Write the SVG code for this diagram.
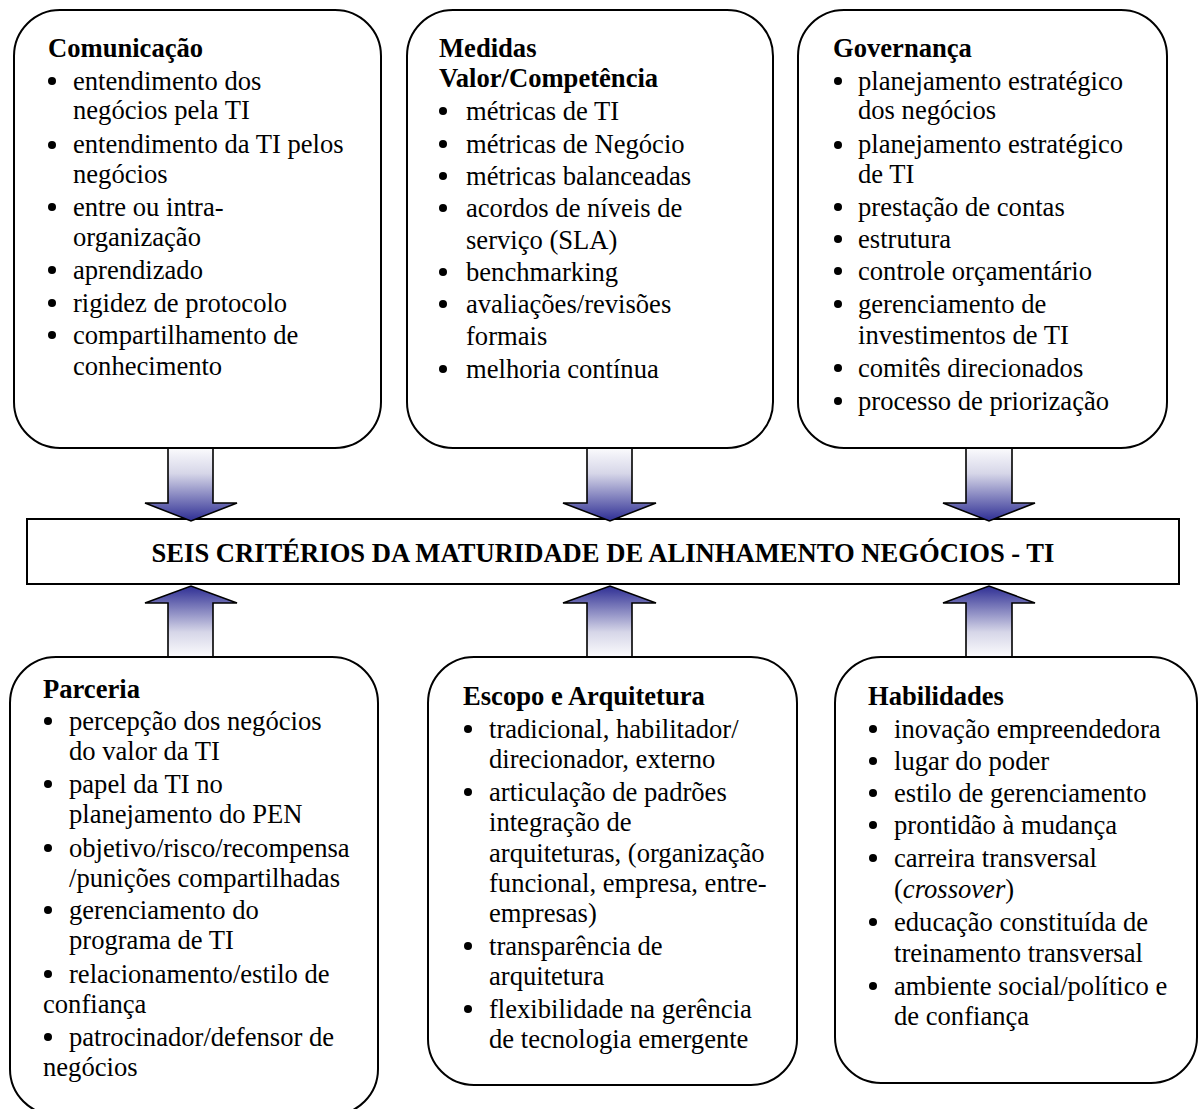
<svg xmlns="http://www.w3.org/2000/svg" width="1200" height="1109" viewBox="0 0 1200 1109">
  <style>
    text { font-family: "Liberation Serif", "Times New Roman", serif; font-size: 26.6px; fill: #000; }
    .h { font-weight: bold; }
    .box { fill: #fff; stroke: #000; stroke-width: 2; }
    .dot { fill: #000; }
    .down { fill: url(#gDown); stroke: #000; stroke-width: 1.6; stroke-linejoin: miter; }
    .up { fill: url(#gUp); stroke: #000; stroke-width: 1.6; stroke-linejoin: miter; }
  </style>
  <defs>
    <linearGradient id="gDown" x1="0" y1="0" x2="0" y2="1">
      <stop offset="0" stop-color="#fbfbfd"/>
      <stop offset="0.35" stop-color="#d6d6e8"/>
      <stop offset="1" stop-color="#2e2e94"/>
    </linearGradient>
    <linearGradient id="gUp" x1="0" y1="1" x2="0" y2="0">
      <stop offset="0" stop-color="#fbfbfd"/>
      <stop offset="0.35" stop-color="#d6d6e8"/>
      <stop offset="1" stop-color="#2e2e94"/>
    </linearGradient>
  </defs>
  <rect width="1200" height="1109" fill="#fff"/>

  <!-- central criteria bar -->
  <g id="center">
    <rect x="27" y="519" width="1152" height="65" fill="#fff" stroke="#000" stroke-width="2"/>
    <text class="h" x="603" y="562" text-anchor="middle">SEIS CRITÉRIOS DA MATURIDADE DE ALINHAMENTO NEGÓCIOS - TI</text>
  </g>

  <!-- block arrows feeding the central bar -->
  <g id="connectors">
    <polygon class="down" points="168,448 213,448 213,503 237,503 191,521 145,503 168,503"/>
    <polygon class="down" points="587,448 632,448 632,503 656,503 610,521 563,503 587,503"/>
    <polygon class="down" points="966,448 1012,448 1012,503 1035,503 989,521 943,503 966,503"/>
    <polygon class="up" points="168,657 213,657 213,603 237,603 191,586 145,603 168,603"/>
    <polygon class="up" points="587,657 632,657 632,603 656,603 610,586 563,603 587,603"/>
    <polygon class="up" points="966,657 1012,657 1012,603 1035,603 989,586 943,603 966,603"/>
  </g>

  <!-- Comunicação -->
  <g id="comunicacao">
    <rect class="box" x="14" y="10" width="367" height="438" rx="46"/>
    <text class="h" x="48" y="57">Comunicação</text>
    <circle class="dot" cx="52" cy="81" r="4"/><text x="73" y="90">entendimento dos</text>
    <text x="73" y="119">negócios pela TI</text>
    <circle class="dot" cx="52" cy="145" r="4"/><text x="73" y="153">entendimento da TI pelos</text>
    <text x="73" y="183">negócios</text>
    <circle class="dot" cx="52" cy="207" r="4"/><text x="73" y="216">entre ou intra-</text>
    <text x="73" y="246">organização</text>
    <circle class="dot" cx="52" cy="270" r="4"/><text x="73" y="279">aprendizado</text>
    <circle class="dot" cx="52" cy="303" r="4"/><text x="73" y="312">rigidez de protocolo</text>
    <circle class="dot" cx="52" cy="335" r="4"/><text x="73" y="344">compartilhamento de</text>
    <text x="73" y="375">conhecimento</text>
  </g>

  <!-- Medidas Valor/Competência -->
  <g id="medidas">
    <rect class="box" x="407" y="10" width="366" height="438" rx="46"/>
    <text class="h" x="439" y="57">Medidas</text>
    <text class="h" x="439" y="87">Valor/Competência</text>
    <circle class="dot" cx="443" cy="111" r="4"/><text x="466" y="120">métricas de TI</text>
    <circle class="dot" cx="443" cy="144" r="4"/><text x="466" y="153">métricas de Negócio</text>
    <circle class="dot" cx="443" cy="176" r="4"/><text x="466" y="185">métricas balanceadas</text>
    <circle class="dot" cx="443" cy="208" r="4"/><text x="466" y="217">acordos de níveis de</text>
    <text x="466" y="249">serviço (SLA)</text>
    <circle class="dot" cx="443" cy="272" r="4"/><text x="466" y="281">benchmarking</text>
    <circle class="dot" cx="443" cy="304" r="4"/><text x="466" y="313">avaliações/revisões</text>
    <text x="466" y="345">formais</text>
    <circle class="dot" cx="443" cy="369" r="4"/><text x="466" y="378">melhoria contínua</text>
  </g>

  <!-- Governança -->
  <g id="governanca">
    <rect class="box" x="798" y="10" width="369" height="438" rx="46"/>
    <text class="h" x="833" y="57">Governança</text>
    <circle class="dot" cx="838" cy="81" r="4"/><text x="858" y="90">planejamento estratégico</text>
    <text x="858" y="119">dos negócios</text>
    <circle class="dot" cx="838" cy="145" r="4"/><text x="858" y="153">planejamento estratégico</text>
    <text x="858" y="183">de TI</text>
    <circle class="dot" cx="838" cy="207" r="4"/><text x="858" y="216">prestação de contas</text>
    <circle class="dot" cx="838" cy="239" r="4"/><text x="858" y="248">estrutura</text>
    <circle class="dot" cx="838" cy="271" r="4"/><text x="858" y="280">controle orçamentário</text>
    <circle class="dot" cx="838" cy="304" r="4"/><text x="858" y="313">gerenciamento de</text>
    <text x="858" y="344">investimentos de TI</text>
    <circle class="dot" cx="838" cy="368" r="4"/><text x="858" y="377">comitês direcionados</text>
    <circle class="dot" cx="838" cy="401" r="4"/><text x="858" y="410">processo de priorização</text>
  </g>

  <!-- Parceria -->
  <g id="parceria">
    <rect class="box" x="10" y="657" width="368" height="458" rx="46"/>
    <text class="h" x="43" y="698">Parceria</text>
    <circle class="dot" cx="48" cy="721" r="4"/><text x="69" y="730">percepção dos negócios</text>
    <text x="69" y="760">do valor da TI</text>
    <circle class="dot" cx="48" cy="784" r="4"/><text x="69" y="793">papel da TI no</text>
    <text x="69" y="823">planejamento do PEN</text>
    <circle class="dot" cx="48" cy="848" r="4"/><text x="69" y="857">objetivo/risco/recompensa</text>
    <text x="69" y="887">/punições compartilhadas</text>
    <circle class="dot" cx="48" cy="910" r="4"/><text x="69" y="919">gerenciamento do</text>
    <text x="69" y="949">programa de TI</text>
    <circle class="dot" cx="48" cy="974" r="4"/><text x="69" y="983">relacionamento/estilo de</text>
    <text x="43" y="1013">confiança</text>
    <circle class="dot" cx="48" cy="1037" r="4"/><text x="69" y="1046">patrocinador/defensor de</text>
    <text x="43" y="1076">negócios</text>
  </g>

  <!-- Escopo e Arquitetura -->
  <g id="escopo">
    <rect class="box" x="428" y="657" width="369" height="428" rx="46"/>
    <text class="h" x="463" y="705">Escopo e Arquitetura</text>
    <circle class="dot" cx="468" cy="729" r="4"/><text x="489" y="738">tradicional, habilitador/</text>
    <text x="489" y="768">direcionador, externo</text>
    <circle class="dot" cx="468" cy="792" r="4"/><text x="489" y="801">articulação de padrões</text>
    <text x="489" y="831">integração de</text>
    <text x="489" y="862">arquiteturas, (organização</text>
    <text x="489" y="892">funcional, empresa, entre-</text>
    <text x="489" y="922">empresas)</text>
    <circle class="dot" cx="468" cy="946" r="4"/><text x="489" y="955">transparência de</text>
    <text x="489" y="985">arquitetura</text>
    <circle class="dot" cx="468" cy="1009" r="4"/><text x="489" y="1018">flexibilidade na gerência</text>
    <text x="489" y="1048">de tecnologia emergente</text>
  </g>

  <!-- Habilidades -->
  <g id="habilidades">
    <rect class="box" x="835" y="657" width="362" height="426" rx="46"/>
    <text class="h" x="868" y="705">Habilidades</text>
    <circle class="dot" cx="873" cy="729" r="4"/><text x="894" y="738">inovação empreendedora</text>
    <circle class="dot" cx="873" cy="761" r="4"/><text x="894" y="770">lugar do poder</text>
    <circle class="dot" cx="873" cy="793" r="4"/><text x="894" y="802">estilo de gerenciamento</text>
    <circle class="dot" cx="873" cy="825" r="4"/><text x="894" y="834">prontidão à mudança</text>
    <circle class="dot" cx="873" cy="858" r="4"/><text x="894" y="867">carreira transversal</text>
    <text x="894" y="898">(<tspan font-style="italic">crossover</tspan>)</text>
    <circle class="dot" cx="873" cy="922" r="4"/><text x="894" y="931">educação constituída de</text>
    <text x="894" y="962">treinamento transversal</text>
    <circle class="dot" cx="873" cy="986" r="4"/><text x="894" y="995">ambiente social/político e</text>
    <text x="894" y="1025">de confiança</text>
  </g>
</svg>
